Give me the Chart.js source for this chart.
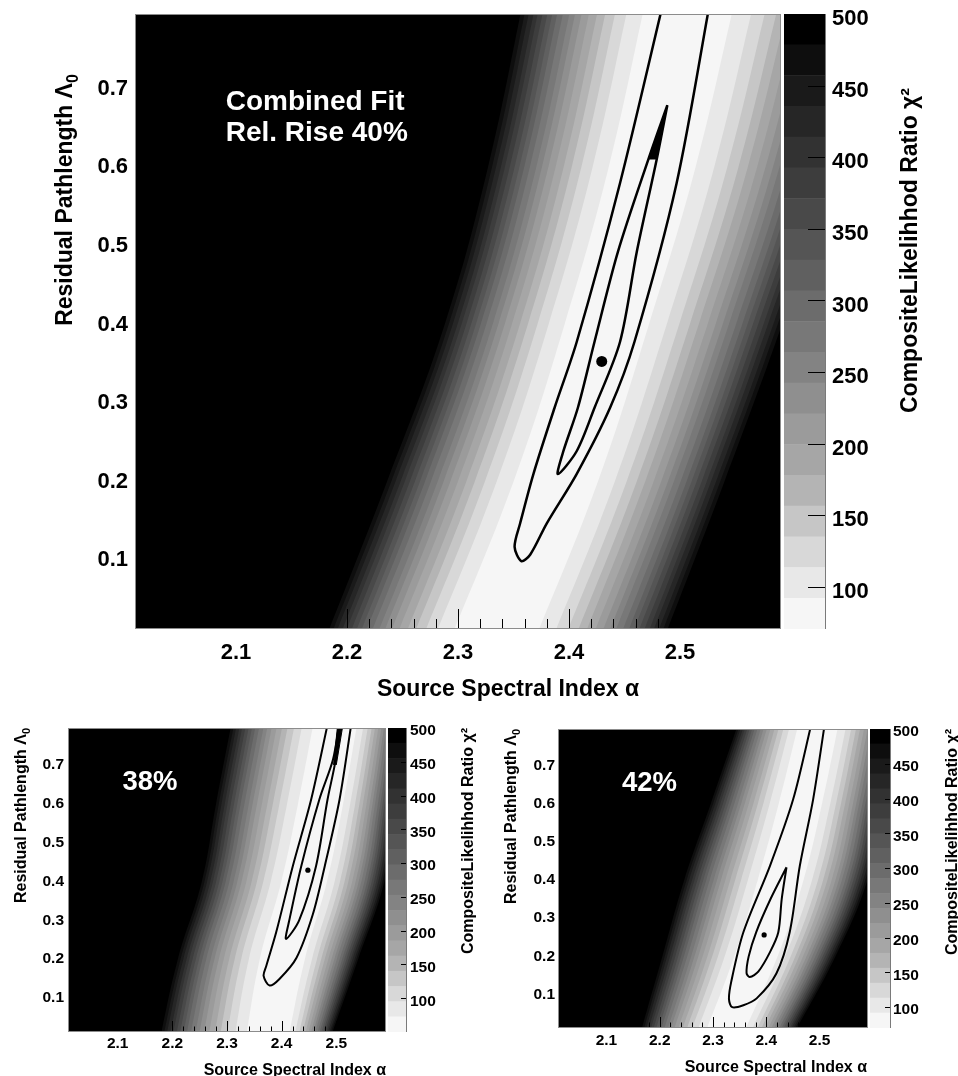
<!DOCTYPE html>
<html>
<head>
<meta charset="utf-8">
<script src="https://cdn.jsdelivr.net/npm/chart.js@4.4.0/dist/chart.umd.min.js"></script>
<style>
  body { margin: 0; background: #fff; width: 958px; height: 1076px; position: relative; overflow: hidden; }
  canvas { position: absolute; }
</style>
</head>
<body>
<canvas id="combPlot" width="782" height="705" style="left:0;top:0"></canvas>
<canvas id="combBar" width="174" height="705" style="left:784px;top:0"></canvas>
<canvas id="lowPlot" width="387" height="376" style="left:0;top:700px"></canvas>
<canvas id="lowBar" width="92" height="376" style="left:388px;top:700px"></canvas>
<canvas id="highPlot" width="389" height="376" style="left:480px;top:700px"></canvas>
<canvas id="highBar" width="88" height="376" style="left:870px;top:700px"></canvas>
<script>
const FONT = "'Liberation Sans', Arial, Helvetica, sans-serif";
Chart.defaults.font.family = FONT;
Chart.defaults.font.weight = "bold";
Chart.defaults.color = "#000";

// grey of each chi2 band, lightest (lowest) first
const bandGreys = ["#f6f6f6", "#e8e8e8", "#d8d8d8", "#c6c6c6", "#b4b4b4", "#a6a6a6", "#9b9b9b", "#8f8f8f", "#838383", "#787878",
  "#6c6c6c", "#606060", "#555555", "#494949", "#3d3d3d", "#323232", "#262626", "#1a1a1a", "#0e0e0e", "#000000"];
// where each band edge sits between valley line (0) and black edge (1)
const edgeFrac = [0.25, 0.35, 0.42, 0.48, 0.53, 0.58, 0.625, 0.665, 0.70, 0.74, 0.775, 0.805, 0.835, 0.865, 0.895, 0.92, 0.95, 0.975, 1.0];
const rowY = [-0.02, 0.2, 0.4, 0.6, 0.82];

const xRange = [2.009, 2.591];
const yRange = [0.0125, 0.795];
const xTicks = [2.1, 2.2, 2.3, 2.4, 2.5];
const xMinorTicks = [2.02, 2.04, 2.06, 2.08, 2.12, 2.14, 2.16, 2.18, 2.22, 2.24, 2.26, 2.28, 2.32, 2.34, 2.36, 2.38,
  2.42, 2.44, 2.46, 2.48, 2.52, 2.54, 2.56, 2.58];
const yTicks = [0.1, 0.2, 0.3, 0.4, 0.5, 0.6, 0.7];
const yMinorTicks = [0.02, 0.04, 0.06, 0.08, 0.12, 0.14, 0.16, 0.18, 0.22, 0.24, 0.26, 0.28, 0.32, 0.34, 0.36, 0.38,
  0.42, 0.44, 0.46, 0.48, 0.52, 0.54, 0.56, 0.58, 0.62, 0.64, 0.66, 0.68, 0.72, 0.74, 0.76, 0.78];
const zTicks = [100, 150, 200, 250, 300, 350, 400, 450, 500];

// combined fit, rel. rise 40%
const combValley = [2.325, 2.388, 2.432, 2.472, 2.507];
const combLeftW = [0.150, 0.152, 0.144, 0.145, 0.147];
const combRightW = [0.155, 0.152, 0.160, 0.168, 0.175];
const combOuter = [[2.485, 0.81], [2.446, 0.58], [2.407, 0.378], [2.387, 0.294], [2.368, 0.21], [2.356, 0.147],
  [2.351, 0.117], [2.357, 0.099], [2.365, 0.107], [2.380, 0.147], [2.407, 0.21], [2.437, 0.294], [2.459, 0.378],
  [2.497, 0.58], [2.527, 0.81]];
const combInner = [[2.4886, 0.679], [2.479, 0.61], [2.461, 0.492], [2.446, 0.378], [2.423, 0.294], [2.407, 0.239],
  [2.390, 0.2096], [2.395, 0.239], [2.408, 0.294], [2.423, 0.378], [2.444, 0.492], [2.4715, 0.61], [2.4886, 0.679]];
const combTip = [[2.4715, 0.61], [2.4886, 0.679], [2.479, 0.61]];
const combBest = [[2.4295, 0.353]];
const combLevels = [70.6, 92.07, 113.54, 135.01, 156.48, 177.95, 199.42, 220.89, 242.36, 263.83, 285.3, 306.77,
  328.24, 349.71, 371.18, 392.65, 414.12, 435.59, 457.06, 478.53, 500];

// rel. rise 38%
const lowValley = [2.385, 2.41, 2.448, 2.48, 2.51];
const lowLeftW = [0.21, 0.20, 0.194, 0.20, 0.20];
const lowRightW = [0.10, 0.13, 0.14, 0.13, 0.12];
const lowOuter = [[2.485, 0.81], [2.454, 0.611], [2.4205, 0.44], [2.390, 0.269], [2.372, 0.183], [2.367, 0.157],
  [2.378, 0.132], [2.396, 0.149], [2.427, 0.203], [2.457, 0.315], [2.479, 0.44], [2.506, 0.611], [2.528, 0.81]];
const lowInner = [[2.506, 0.81], [2.499, 0.714], [2.484, 0.611], [2.463, 0.44], [2.432, 0.30], [2.408, 0.252],
  [2.414, 0.30], [2.436, 0.44], [2.469, 0.611], [2.494, 0.714], [2.506, 0.81]];
const lowTip = [[2.495, 0.70], [2.503, 0.81], [2.513, 0.81], [2.500, 0.70]];
const lowBest = [[2.448, 0.429]];
const lowLevels = [50, 72.5, 95, 117.5, 140, 162.5, 185, 207.5, 230, 252.5, 275, 297.5, 320, 342.5, 365, 387.5,
  410, 432.5, 455, 477.5, 500];

// rel. rise 42%
const highValley = [2.32, 2.385, 2.43, 2.466, 2.50];
const highLeftW = [0.16, 0.18, 0.184, 0.17, 0.15];
const highRightW = [0.125, 0.145, 0.16, 0.155, 0.15];
const highOuter = [[2.485, 0.81], [2.4505, 0.611], [2.407, 0.437], [2.357, 0.263], [2.334, 0.132], [2.330, 0.088],
  [2.336, 0.067], [2.357, 0.072], [2.382, 0.09], [2.419, 0.155], [2.444, 0.263], [2.463, 0.437], [2.488, 0.611],
  [2.510, 0.81]];
const highInner = [[2.438, 0.433], [2.429, 0.35], [2.4226, 0.263], [2.407, 0.211], [2.385, 0.16], [2.369, 0.146],
  [2.363, 0.156], [2.367, 0.20], [2.381, 0.263], [2.408, 0.35], [2.438, 0.433]];
const highBest = [[2.396, 0.256]];
const highLevels = [70, 91.5, 113, 134.5, 156, 177.5, 199, 220.5, 242, 263.5, 285, 306.5, 328, 349.5, 371, 392.5,
  414, 435.5, 457, 478.5, 500];

const pts = a => a.map(([x, y]) => ({ x, y }));

// text with an optional smaller subscript after it, optionally rotated to read upwards
function drawText(ctx, t) {
  ctx.save();
  ctx.fillStyle = t.color || "#000";
  ctx.textAlign = "left";
  ctx.textBaseline = "alphabetic";
  ctx.translate(t.x, t.y);
  if (t.rot) ctx.rotate(-Math.PI / 2);
  const mainFont = "bold " + t.size + "px " + FONT;
  const subFont = "bold " + Math.round(t.size * 0.7) + "px " + FONT;
  ctx.font = mainFont;
  const w1 = ctx.measureText(t.text).width;
  ctx.font = subFont;
  const w2 = t.sub ? ctx.measureText(t.sub).width : 0;
  const total = w1 + w2;
  const x0 = t.align === "center" ? -total / 2 : t.align === "right" ? -total : 0;
  ctx.font = mainFont;
  ctx.fillText(t.text, x0, 0);
  if (t.sub) {
    ctx.font = subFont;
    ctx.fillText(t.sub, x0 + w1, t.size * 0.28);
  }
  ctx.restore();
}

// keep the plot frame exactly where the layout puts it
function noScalePadding(s) {
  s.paddingLeft = 0;
  s.paddingRight = 0;
  s.paddingTop = 0;
  s.paddingBottom = 0;
}

function makePlot(id, p) {
  const datasets = [];
  edgeFrac.forEach((f, i) => {
    const k = i + 1;
    const base = { indexAxis: "y", backgroundColor: bandGreys[k], borderWidth: 0, pointRadius: 0, tension: 0.4, order: 100 - k };
    datasets.push({ ...base, fill: { value: xRange[0] }, data: rowY.map((y, r) => ({ x: p.valley[r] - f * p.leftW[r], y })) });
    datasets.push({ ...base, fill: { value: xRange[1] }, data: rowY.map((y, r) => ({ x: p.valley[r] + f * p.rightW[r], y })) });
  });
  const line = { borderColor: "#000", borderWidth: p.lw, pointRadius: 0, fill: false, tension: 0.3, order: 2 };
  datasets.push({ ...line, data: pts(p.outer) });
  datasets.push({ ...line, data: pts(p.inner) });
  if (p.tip) datasets.push({ data: pts(p.tip), fill: "shape", backgroundColor: "#000", borderColor: "#000", borderWidth: 1, pointRadius: 0, tension: 0, order: 1 });
  datasets.push({ data: pts(p.best), showLine: false, pointRadius: p.dot, backgroundColor: "#000", borderWidth: 0, order: 0 });

  const marks = {
    id: "marks",
    beforeDatasetsDraw(chart) {
      const { ctx, chartArea: a } = chart;
      ctx.save();
      ctx.fillStyle = bandGreys[0];
      ctx.fillRect(a.left, a.top, a.right - a.left, a.bottom - a.top);
      ctx.restore();
    },
    afterDatasetsDraw(chart) {
      const { ctx, chartArea: a, scales: { x, y } } = chart;
      ctx.save();
      ctx.strokeStyle = "#000";
      ctx.lineWidth = 1;
      ctx.beginPath();
      const tx = (v, len) => { const px = Math.round(x.getPixelForValue(v)) + 0.5; ctx.moveTo(px, a.bottom); ctx.lineTo(px, a.bottom - len); };
      const ty = (v, len) => { const py = Math.round(y.getPixelForValue(v)) + 0.5; ctx.moveTo(a.left, py); ctx.lineTo(a.left + len, py); };
      xTicks.forEach(v => tx(v, p.tickLen));
      xMinorTicks.forEach(v => tx(v, p.tickLen / 2));
      yTicks.forEach(v => ty(v, p.tickLen));
      yMinorTicks.forEach(v => ty(v, p.tickLen / 2));
      ctx.stroke();
      ctx.strokeStyle = "#8c8c8c";
      ctx.strokeRect(a.left + 0.5, a.top + 0.5, a.right - a.left - 1, a.bottom - a.top - 1);
      ctx.restore();
      p.notes.forEach(n => drawText(ctx, { ...n, x: x.getPixelForValue(n.x), y: y.getPixelForValue(n.y), color: "#fff" }));
      p.titles.forEach(t => drawText(ctx, t));
    }
  };

  return new Chart(document.getElementById(id), {
    type: "line",
    data: { datasets },
    options: {
      responsive: false,
      animation: false,
      events: [],
      elements: { line: { capBezierPoints: false } },
      layout: { autoPadding: false, padding: { top: p.top, right: p.right, left: 0, bottom: 0 } },
      plugins: { legend: { display: false }, tooltip: { enabled: false } },
      scales: {
        x: {
          type: "linear", min: xRange[0], max: xRange[1],
          grid: { display: false, drawTicks: false }, border: { display: false },
          ticks: { font: { size: p.tickFont }, padding: p.xPad, maxRotation: 0, autoSkip: false, callback: v => v.toFixed(1) },
          afterBuildTicks: s => { s.ticks = xTicks.map(value => ({ value })); },
          afterFit: s => { s.height = p.xH; noScalePadding(s); }
        },
        y: {
          type: "linear", min: yRange[0], max: yRange[1],
          grid: { display: false, drawTicks: false }, border: { display: false },
          ticks: { font: { size: p.tickFont }, padding: p.yPad, autoSkip: false, callback: v => v.toFixed(1) },
          afterBuildTicks: s => { s.ticks = yTicks.map(value => ({ value })); },
          afterFit: s => { s.width = p.yW; noScalePadding(s); }
        }
      }
    },
    plugins: [marks]
  });
}

function makeBar(id, b) {
  const datasets = bandGreys.map((c, j) => ({
    data: [[b.levels[j], b.levels[j + 1]]], backgroundColor: c, borderWidth: 0,
    grouped: false, barPercentage: 1, categoryPercentage: 1
  }));
  const barMarks = {
    id: "barMarks",
    afterDatasetsDraw(chart) {
      const { ctx, chartArea: a, scales: { y } } = chart;
      ctx.save();
      ctx.strokeStyle = "#000";
      ctx.lineWidth = 1;
      ctx.beginPath();
      zTicks.forEach(v => {
        const py = Math.round(y.getPixelForValue(v)) + 0.5;
        ctx.moveTo(a.right, py);
        ctx.lineTo(a.right - b.tickLen, py);
      });
      ctx.stroke();
      ctx.strokeStyle = "#7a7a7a";
      ctx.beginPath();
      ctx.moveTo(a.right - 0.5, a.top);
      ctx.lineTo(a.right - 0.5, a.bottom);
      ctx.stroke();
      ctx.restore();
      drawText(ctx, b.title);
    }
  };
  return new Chart(document.getElementById(id), {
    type: "bar",
    data: { labels: [""], datasets },
    options: {
      responsive: false,
      animation: false,
      events: [],
      layout: { autoPadding: false, padding: { top: b.top, bottom: b.bottom, left: 0, right: 0 } },
      plugins: { legend: { display: false }, tooltip: { enabled: false } },
      scales: {
        x: { display: false },
        y: {
          position: "right", min: b.levels[0], max: 500,
          grid: { display: false, drawTicks: false }, border: { display: false },
          ticks: { font: { size: b.tickFont }, padding: b.pad, labelOffset: b.shift, autoSkip: false, callback: v => String(v) },
          afterBuildTicks: s => { s.ticks = zTicks.map(value => ({ value })); },
          afterFit: s => { s.width = b.yW; noScalePadding(s); }
        }
      }
    },
    plugins: [barMarks]
  });
}

const Y_TITLE = "Residual Pathlength \u039b";
const Y_SUB = "0";
const X_TITLE = "Source Spectral Index \u03b1";
const Z_TITLE = "CompositeLikelihhod Ratio \u03c7\u00b2";

makePlot("combPlot", {
  valley: combValley, leftW: combLeftW, rightW: combRightW,
  outer: combOuter, inner: combInner, tip: combTip, best: combBest,
  lw: 2.5, dot: 5.5, tickLen: 20, tickFont: 22, xPad: 11, yPad: 7,
  top: 14, right: 1, xH: 76, yW: 135,
  notes: [{ text: "Combined Fit", x: 2.0907, y: 0.673, size: 28 }, { text: "Rel. Rise 40%", x: 2.0907, y: 0.634, size: 28 }],
  titles: [
    { text: Y_TITLE, sub: Y_SUB, x: 72, y: 200, rot: true, align: "center", size: 23 },
    { text: X_TITLE, x: 508, y: 696, align: "center", size: 23 }
  ]
});
makeBar("combBar", {
  levels: combLevels, top: 14, bottom: 76, yW: 132, pad: 6, shift: 5, tickFont: 22, tickLen: 18,
  title: { text: Z_TITLE, x: 133, y: 88, rot: true, align: "right", size: 23 }
});

makePlot("lowPlot", {
  valley: lowValley, leftW: lowLeftW, rightW: lowRightW,
  outer: lowOuter, inner: lowInner, tip: lowTip, best: lowBest,
  lw: 2, dot: 2.6, tickLen: 11, tickFont: 15.5, xPad: 2, yPad: 4,
  top: 28, right: 1, xH: 44, yW: 68,
  notes: [{ text: "38%", x: 2.1086, y: 0.635, size: 27.5 }],
  titles: [
    { text: Y_TITLE, sub: Y_SUB, x: 26, y: 28, rot: true, align: "right", size: 16 },
    { text: X_TITLE, x: 386, y: 375, align: "right", size: 16 }
  ]
});
makeBar("lowBar", {
  levels: lowLevels, top: 28, bottom: 44, yW: 73, pad: 3, shift: 3, tickFont: 15.5, tickLen: 6,
  title: { text: Z_TITLE, x: 85, y: 28, rot: true, align: "right", size: 16 }
});

makePlot("highPlot", {
  valley: highValley, leftW: highLeftW, rightW: highRightW,
  outer: highOuter, inner: highInner, best: highBest,
  lw: 2, dot: 2.6, tickLen: 11, tickFont: 15.5, xPad: 3, yPad: 3,
  top: 29, right: 1, xH: 48, yW: 78,
  notes: [{ text: "42%", x: 2.129, y: 0.634, size: 27.5 }],
  titles: [
    { text: Y_TITLE, sub: Y_SUB, x: 36, y: 29, rot: true, align: "right", size: 16 },
    { text: X_TITLE, x: 387, y: 372, align: "right", size: 16 }
  ]
});
makeBar("highBar", {
  levels: highLevels, top: 29, bottom: 48, yW: 67, pad: 2, shift: 3, tickFont: 15.5, tickLen: 6,
  title: { text: Z_TITLE, x: 87, y: 29, rot: true, align: "right", size: 16 }
});
</script>
</body>
</html>
